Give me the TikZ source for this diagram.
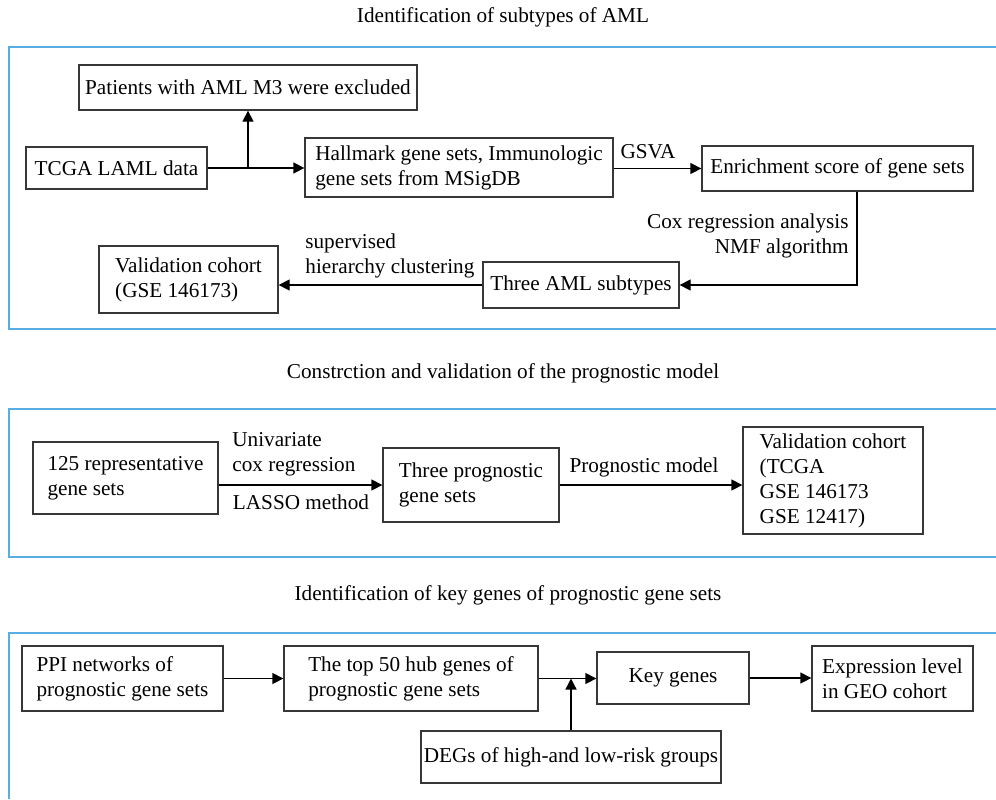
\documentclass[tikz,border=0pt]{standalone}
\usepackage{fontspec}
\setmainfont{Liberation Serif}
\usepackage{tikz}
\usetikzlibrary{arrows.meta}
\definecolor{frame}{RGB}{88, 174, 226}
\definecolor{edge}{RGB}{55, 55, 55}

\begin{document}
\begin{tikzpicture}[x=0.5pt, y=-0.5pt,
    every node/.style={font=\fontsize{10.6}{12.5}\selectfont, inner sep=0pt},
    box/.style={draw=edge, line width=0.65pt, align=left},
    lbl/.style={align=left},
    arr/.style={line width=0.65pt, -{Triangle[length=5.5pt, width=5.5pt]}}]
  \useasboundingbox (0, 0) rectangle (996, 799);

  % panel frames, open on the right
  \foreach \t/\b in {47/329, 409/557} {
    \draw[frame, line width=0.8pt] (996, \t) -- (9, \t) -- (9, \b) -- (996, \b);
  }
  \draw[frame, line width=0.8pt] (996, 633) -- (9, 633) -- (9, 799);

  \node (title1) at (503, 17) {Identification of subtypes of AML};
  \node (title2) at (503, 373) {Constrction and validation of the prognostic model};
  \node (title3) at (508, 595) {Identification of key genes of prognostic gene sets};

  % subtypes of AML
  \node[box, minimum width=169pt, minimum height=22.5pt] (excl) at (248, 87.5)
    {Patients with AML M3 were excluded};
  \node[box, minimum width=90.5pt, minimum height=21pt] (tcga) at (116.5, 168)
    {TCGA LAML data};
  \node[box, minimum width=154pt, minimum height=29.5pt] (hallmark) at (459, 167.5)
    {Hallmark gene sets, Immunologic\\gene sets from MSigDB};
  \node[box, minimum width=135.5pt, minimum height=22.5pt] (enrich) at (837.5, 168.5)
    {Enrichment score of gene sets};
  \node[box, minimum width=98pt, minimum height=23pt] (three) at (581, 285)
    {Three AML subtypes};
  \node[box, minimum width=89.5pt, minimum height=33.5pt] (valid1) at (188.5, 279.5)
    {Validation cohort\\(GSE 146173)};
  \coordinate (turn) at (857, 285);

  \draw[arr] (tcga.east) -- (tcga.east -| hallmark.west);
  \draw[arr] (excl.south |- tcga.east) -- (excl.south);
  \draw[arr] (hallmark.east |- enrich.west) -- (enrich.west);
  \draw[arr] (enrich.south -| turn) -- (turn) -- (three.east);
  \draw[arr] (three.west) -- (three.west -| valid1.east);

  \node (gsva) at (648, 152) {GSVA};
  \node[lbl, align=right, anchor=east] (coxnmf) at (849, 235.5)
    {Cox regression analysis\\NMF algorithm};
  \node[lbl, anchor=west] (hclust) at (305, 256)
    {supervised\\hierarchy clustering};

  % prognostic model
  \node[box, minimum width=92.5pt, minimum height=36pt] (rep) at (125.5, 478)
    {125 representative\\gene sets};
  \node[box, minimum width=88pt, minimum height=37pt] (progset) at (471, 485)
    {Three prognostic\\gene sets};
  \node[box, minimum width=90pt, minimum height=53.5pt] (valid2) at (833, 480.5)
    {Validation cohort\\(TCGA\\GSE 146173\\GSE 12417)};

  \draw[arr] (progset.west -| rep.east) -- (progset.west);
  \draw[arr] (progset.east) -- (progset.east -| valid2.west);

  \node[lbl, anchor=west] (unicox) at (232, 454.5) {Univariate\\cox regression};
  \node (lasso) at (301, 502) {LASSO method};
  \node (progmodel) at (644, 467) {Prognostic model};

  % key genes
  \node[box, minimum width=100.5pt, minimum height=32.5pt] (ppi) at (122.5, 678.5)
    {PPI networks of\\prognostic gene sets};
  \node[box, minimum width=127pt, minimum height=32.5pt] (hub) at (411, 678.5)
    {The top 50 hub genes of\\prognostic gene sets};
  \node[box, minimum width=76pt, minimum height=26pt] (key) at (673, 678)
    {Key genes};
  \node[box, minimum width=80.5pt, minimum height=32.5pt] (expr) at (892.5, 678.5)
    {Expression level\\in GEO cohort};
  \node[box, minimum width=150pt, minimum height=26pt] (degs) at (571, 757)
    {DEGs of high-and low-risk groups};

  \draw[arr] (ppi.east) -- (hub.west);
  \draw[arr] (hub.east) -- (hub.east -| key.west);
  \draw[arr] (key.east) -- (key.east -| expr.west);
  \draw[arr] (degs.north) -- (degs.north |- hub.east);
\end{tikzpicture}
\end{document}
